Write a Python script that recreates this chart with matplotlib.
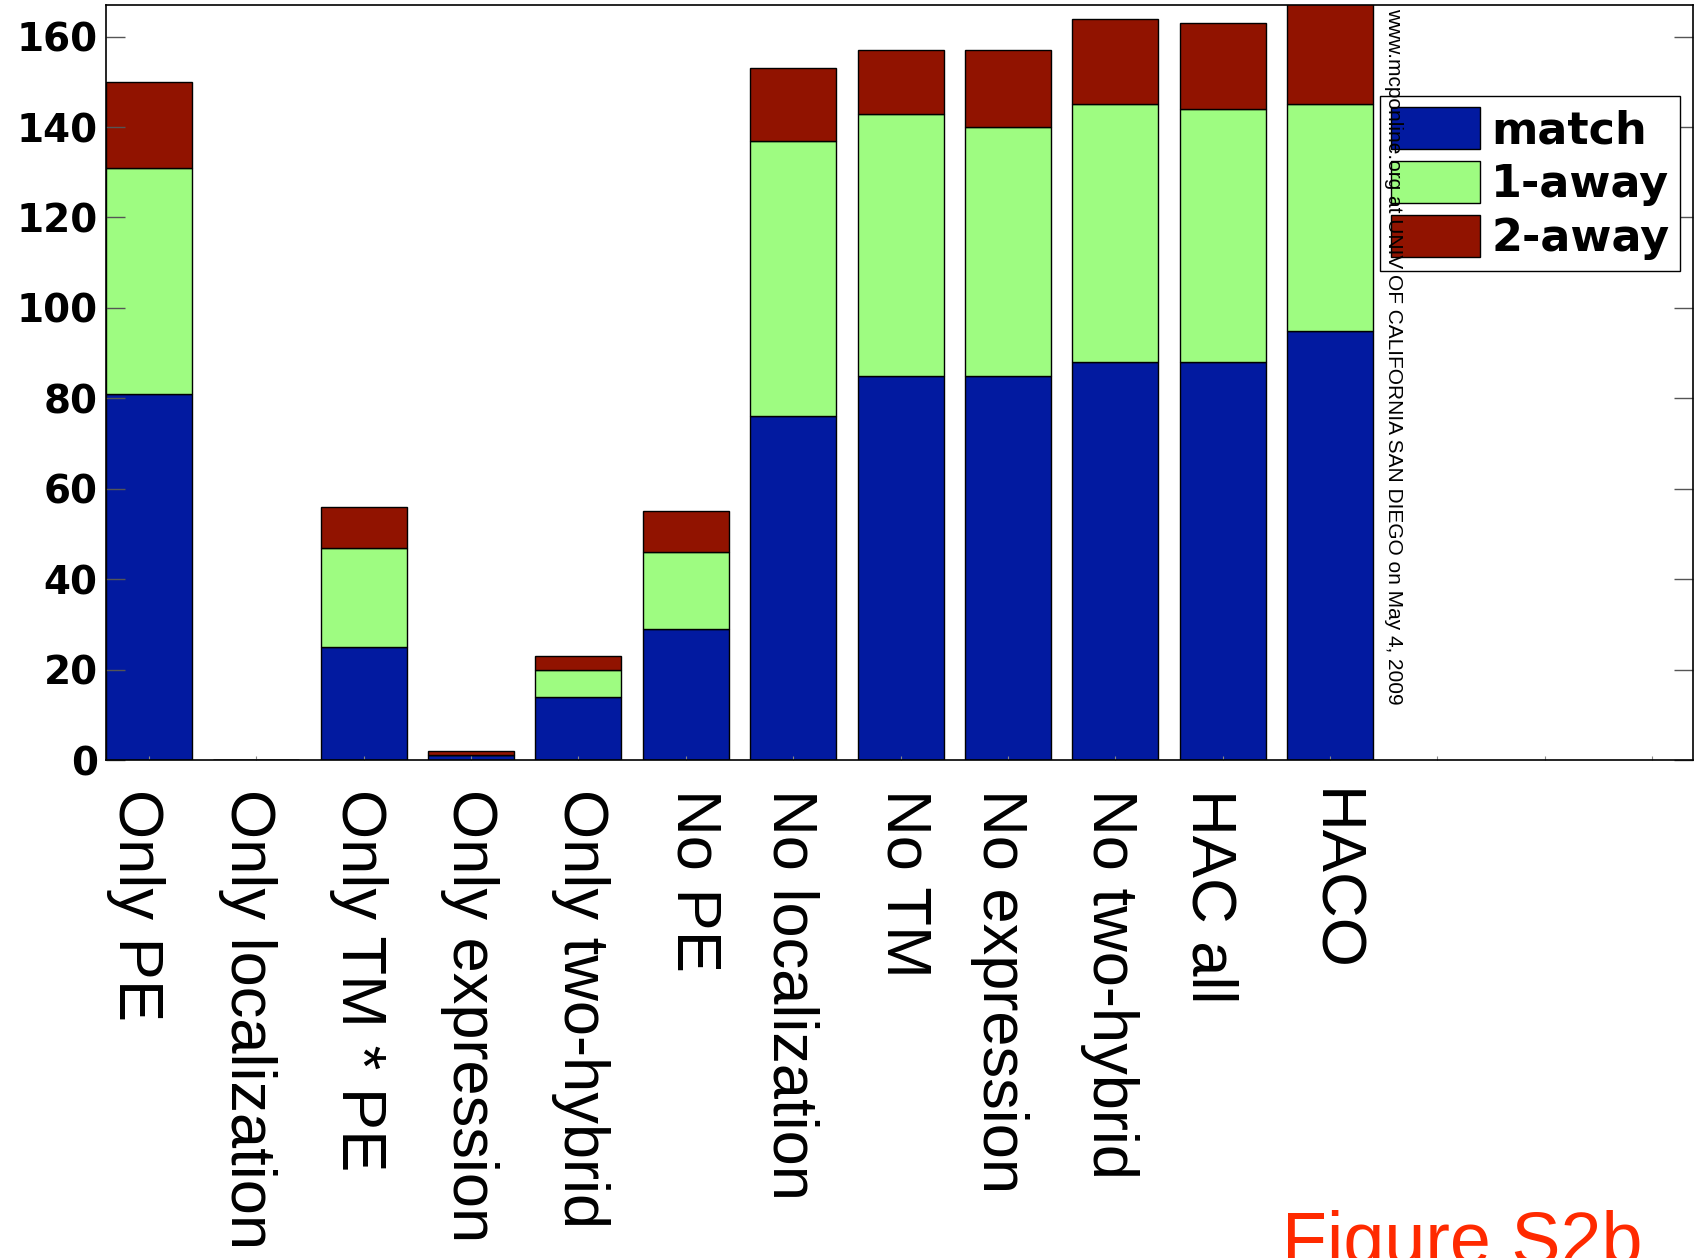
import numpy as np
import matplotlib.pyplot as plt
from matplotlib.transforms import ScaledTranslation

# stacked counts per scoring variant
categories = ['Only PE', 'Only localization', 'Only TM * PE', 'Only expression',
              'Only two-hybrid', 'No PE', 'No localization', 'No TM',
              'No expression', 'No two-hybrid', 'HAC all', 'HACO']
match = np.array([81, 0, 25, 1, 14, 29, 76, 85, 85, 88, 88, 95])
one_away = np.array([50, 0, 22, 0, 6, 17, 61, 58, 55, 57, 56, 50])
two_away = np.array([19, 0, 9, 1, 3, 9, 16, 14, 17, 19, 19, 23])
yticks = [0, 20, 40, 60, 80, 100, 120, 140, 160]

# small horizontal nudges (pixels) for the rotated category labels
label_nudge = [-13, -9, -5, -2, 2, 8, -3, 3, -8, -6, -14, 3]

c_match = '#021aa0'
c_one = '#9efc81'
c_two = '#911300'

W, H = 1696, 1258
fig = plt.figure(figsize=(W / 100, H / 100), dpi=100)
ax = fig.add_axes([106 / W, 1 - 760 / H, (1693 - 106) / W, 755 / H])

x = np.arange(1, len(categories) + 1)
ax.bar(x, match, 0.8, color=c_match, edgecolor='black', linewidth=1, label='match')
ax.bar(x, one_away, 0.8, bottom=match, color=c_one, edgecolor='black',
       linewidth=1, label='1-away')
ax.bar(x, two_away, 0.8, bottom=match + one_away, color=c_two,
       edgecolor='black', linewidth=1, label='2-away')

ax.set_xlim(0.6, 15.38)
ax.set_ylim(0, 167)

ax.set_yticks(yticks)
ax.set_yticklabels([str(v) for v in yticks], fontsize=28, fontweight='bold',
                   family='DejaVu Sans')
ax.tick_params(axis='y', direction='in', length=14, width=1, color='#555555',
               right=True, pad=6)

xt = np.arange(1, 16)
ax.set_xticks(xt)
ax.set_xticklabels(categories + ['', '', ''], rotation=270, fontsize=45.5,
                   family='Liberation Sans', va='top', ha='center')
ax.tick_params(axis='x', direction='in', length=3, color='#888888', pad=21)
for lab, dx in zip(ax.get_xticklabels(), label_nudge):
    lab.set_transform(lab.get_transform()
                      + ScaledTranslation(dx / 100, 0, fig.dpi_scale_trans))

for s in ax.spines.values():
    s.set_linewidth(1.2)
    s.set_color('black')

leg = ax.legend(loc='upper left', bbox_to_anchor=(1380 / W, 1 - 96 / H),
                bbox_transform=fig.transFigure, fancybox=False,
                edgecolor='black', framealpha=1,
                prop=dict(family='DejaVu Sans', weight='bold', size=32),
                handlelength=2.0, handleheight=1.075, handletextpad=0.25,
                borderpad=0.25, labelspacing=0.2, borderaxespad=0)
leg.get_frame().set_linewidth(1)

fig.text(1394 / W, 1 - 8 / H,
         'www.mcponline.org at UNIV OF CALIFORNIA SAN DIEGO on May 4, 2009',
         rotation=270, ha='center', va='top', fontsize=15,
         family='Liberation Sans', zorder=10)

fig.text(1282 / W, -6 / H, 'Figure S2b', color='#ff2a00', fontsize=53,
         family='Liberation Sans', ha='left', va='baseline')

fig.savefig('out.png', dpi=100)
